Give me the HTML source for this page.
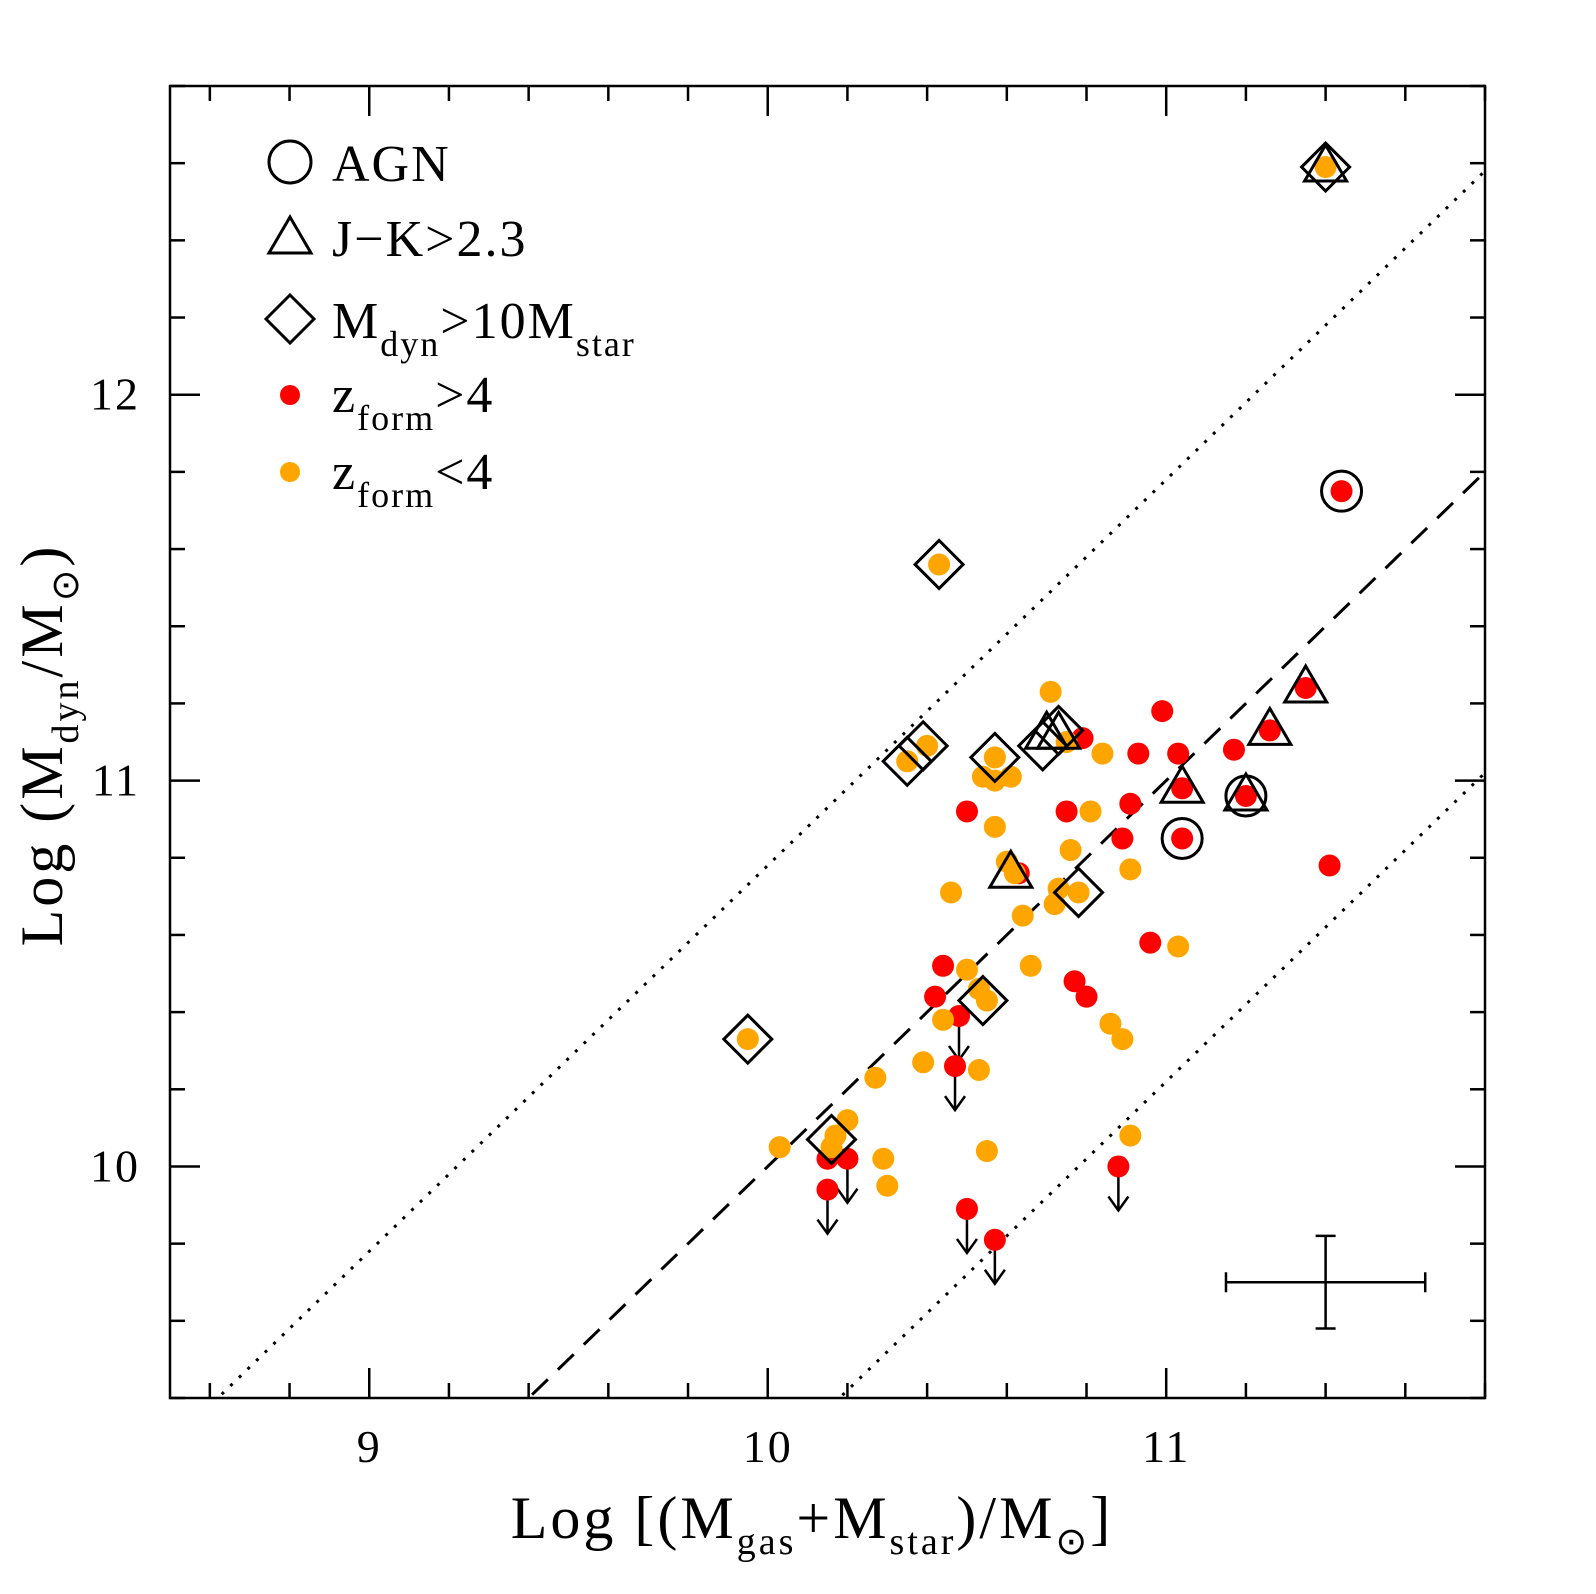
<!DOCTYPE html>
<html><head><meta charset="utf-8"><style>
html,body{margin:0;padding:0;background:#fff;width:1596px;height:1594px;overflow:hidden}
svg{display:block;overflow:hidden}
text{font-family:"Liberation Serif",serif;fill:#000}
</style></head><body>
<svg id="chart" width="1596" height="1594" viewBox="0 0 1596 1594">
<g font-size="52" font-family="Liberation Serif, serif" letter-spacing="2">
 <circle cx="290" cy="162" r="21" fill="none" stroke="#000" stroke-width="3"/>
 <text x="332" y="181">AGN</text>
 <path d="M290 217 L311 253 L269 253 Z" fill="none" stroke="#000" stroke-width="3"/>
 <text x="332" y="256">J−K&gt;2.3</text>
 <path d="M290 295 L314 319 L290 343 L266 319 Z" fill="none" stroke="#000" stroke-width="3"/>
 <text x="332" y="338">M<tspan font-size="36" dy="18">dyn</tspan><tspan dy="-18">&gt;10M</tspan><tspan font-size="36" dy="18">star</tspan></text>
 <circle cx="290" cy="395" r="10" fill="#ff0000"/>
 <text x="332" y="412">z<tspan font-size="36" dy="18">form</tspan><tspan dy="-18">&gt;4</tspan></text>
 <circle cx="290" cy="472" r="10" fill="#ffa500"/>
 <text x="332" y="489">z<tspan font-size="36" dy="18">form</tspan><tspan dy="-18">&lt;4</tspan></text>
</g>
<text x="812" y="1538" font-size="60" letter-spacing="3" text-anchor="middle" font-family="Liberation Serif, serif">Log  [(M<tspan font-size="38" dy="16">gas</tspan><tspan dy="-16">+M</tspan><tspan font-size="38" dy="16">star</tspan><tspan dy="-16">)/M</tspan><tspan font-size="38" dy="16">⊙</tspan><tspan dy="-16">]</tspan></text>
<text transform="translate(62,745) rotate(-90)" font-size="60" letter-spacing="3" text-anchor="middle" font-family="Liberation Serif, serif">Log  (M<tspan font-size="38" dy="16">dyn</tspan><tspan dy="-16">/M</tspan><tspan font-size="38" dy="16">⊙</tspan><tspan dy="-16">)</tspan></text>
</svg>
<script>
const redX=[11.44,11.04,11.20,11.35,11.26,11.04,10.99,10.93,11.03,11.17,11.41,10.91,10.89,10.75,10.79,10.50,10.63,10.96,10.77,10.80,10.44,10.42,10.48,10.47,10.15,10.15,10.20,10.50,10.57,10.88];
const redY=[11.75,10.85,10.96,11.24,11.13,10.98,11.18,11.07,11.07,11.08,10.78,10.94,10.85,10.92,11.11,10.92,10.76,10.58,10.48,10.44,10.52,10.44,10.39,10.26,9.94,10.02,10.02,9.89,9.81,10.00];
const orangeX=[11.40,10.43,10.71,10.84,10.81,10.76,10.91,10.73,10.78,10.72,11.03,10.57,10.54,10.57,10.61,10.57,10.60,10.62,10.46,10.64,10.66,10.50,10.53,10.55,10.44,10.86,10.89,10.39,10.53,10.27,9.95,10.03,10.20,10.17,10.29,10.30,10.55,10.91,10.35,10.40,10.75,10.16];
const orangeY=[12.59,11.56,11.23,11.07,10.92,10.82,10.77,10.72,10.71,10.68,10.57,11.06,11.01,11.00,11.01,10.88,10.79,10.76,10.71,10.65,10.52,10.51,10.46,10.43,10.38,10.37,10.33,10.27,10.25,10.23,10.33,10.05,10.12,10.08,10.02,9.95,10.04,10.08,11.05,11.09,11.10,10.05];
const agnX=[11.44,11.04,11.20], agnY=[11.75,10.85,10.96];
const triX=[11.40,11.35,11.26,11.04,11.20,10.61,10.70,10.73], triY=[12.59,11.24,11.13,10.98,10.96,10.76,11.12,11.12];
const diaX=[11.40,10.43,10.35,10.39,10.57,10.69,10.73,10.78,10.54,9.95,10.16], diaY=[12.59,11.56,11.05,11.09,11.06,11.09,11.13,10.71,10.43,10.33,10.07];
const limX=[10.48,10.47,10.15,10.20,10.50,10.57,10.88], limY=[10.39,10.26,9.94,10.02,9.89,9.81,10.00];
const xTicks=[9,10,11], yTicks=[10,11,12];
const offset=0.78;
const errX=11.40, errY=9.70, errDX=0.25, errDY=0.12;

const X0=8.5,X1=11.8,Y0=9.4,Y1=12.8,L=170,R=1485,T=86,B=1398;
const sx=v=>L+(v-X0)/(X1-X0)*(R-L), sy=v=>B-(v-Y0)/(Y1-Y0)*(B-T);
const svg=document.getElementById('chart'), NS='http://www.w3.org/2000/svg';
function el(tag,at,parent){const e=document.createElementNS(NS,tag);for(const k in at)e.setAttribute(k,at[k]);(parent||svg).appendChild(e);return e;}
const clip=el('clipPath',{id:'pc'});el('rect',{x:L,y:T,width:R-L,height:B-T},clip);
let f=el('rect',{x:L,y:T,width:R-L,height:B-T,fill:'none',stroke:'#000','stroke-width':2.5});


for(let i=0;i<=16;i++){const v=8.6+i*0.2;if(v>X1+1e-6)break;const x=sx(v);const maj=Math.abs(v-Math.round(v))<1e-6;const len=maj?30:15;
 el('line',{x1:x,y1:B,x2:x,y2:B-len,stroke:'#000','stroke-width':2.5});el('line',{x1:x,y1:T,x2:x,y2:T+len,stroke:'#000','stroke-width':2.5});}
for(let i=0;i<=17;i++){const v=9.4+i*0.2;if(v>Y1+1e-6)break;const y=sy(v);const maj=Math.abs(v-Math.round(v))<1e-6;const len=maj?30:15;
 el('line',{x1:L,y1:y,x2:L+len,y2:y,stroke:'#000','stroke-width':2.5});el('line',{x1:R,y1:y,x2:R-len,y2:y,stroke:'#000','stroke-width':2.5});}
xTicks.forEach(v=>{const t=el('text',{x:sx(v),y:1462,'font-size':46,'letter-spacing':2,'text-anchor':'middle'});t.textContent=v;
 
 });
yTicks.forEach(v=>{const t=el('text',{x:140,y:sy(v)+15,'font-size':46,'letter-spacing':2,'text-anchor':'end'});t.textContent=v;
 
 });
const g=el('g',{'clip-path':'url(#pc)'});
[[0,'22 14','one-to-one-line'],[offset,'3 9','upper-dotted-line'],[-offset,'3 9','lower-dotted-line']].forEach(([o,d,n])=>{
 const ln=el('line',{x1:sx(X0),y1:sy(X0+o),x2:sx(X1),y2:sy(X1+o),stroke:'#000','stroke-width':3,'stroke-dasharray':d},g);
 
 });
limX.forEach((v,i)=>{const x=sx(v),y=sy(limY[i]);
 const a=el('path',{d:`M${x} ${y} V${y+44} M${x-10} ${y+30} L${x} ${y+44} L${x+10} ${y+30}`,stroke:'#000','stroke-width':2.5,fill:'none'});
 
 });
redX.forEach((v,i)=>{const c=el('circle',{cx:sx(v),cy:sy(redY[i]),r:11,fill:'#ff0000'});
 
 });
orangeX.forEach((v,i)=>{const c=el('circle',{cx:sx(v),cy:sy(orangeY[i]),r:11,fill:'#ffa500'});
 
 });
agnX.forEach((v,i)=>{const c=el('circle',{cx:sx(v),cy:sy(agnY[i]),r:20,fill:'none',stroke:'#000','stroke-width':3});
 
 });
const tri=(x,y)=>`M${x} ${y-22} L${x+21} ${y+14} L${x-21} ${y+14} Z`;
triX.forEach((v,i)=>{const p=el('path',{d:tri(sx(v),sy(triY[i])),fill:'none',stroke:'#000','stroke-width':3});
 
 });
const dia=(x,y)=>`M${x} ${y-24} L${x+24} ${y} L${x} ${y+24} L${x-24} ${y} Z`;
diaX.forEach((v,i)=>{const p=el('path',{d:dia(sx(v),sy(diaY[i])),fill:'none',stroke:'#000','stroke-width':3});
 
 });
const eb=el('path',{d:`M${sx(errX-errDX)} ${sy(errY)} H${sx(errX+errDX)} M${sx(errX-errDX)} ${sy(errY)-10} V${sy(errY)+10} M${sx(errX+errDX)} ${sy(errY)-10} V${sy(errY)+10} M${sx(errX)} ${sy(errY+errDY)} V${sy(errY-errDY)} M${sx(errX)-10} ${sy(errY+errDY)} H${sx(errX)+10} M${sx(errX)-10} ${sy(errY-errDY)} H${sx(errX)+10}`,stroke:'#000','stroke-width':2.5,fill:'none'});


</script>
</body></html>
